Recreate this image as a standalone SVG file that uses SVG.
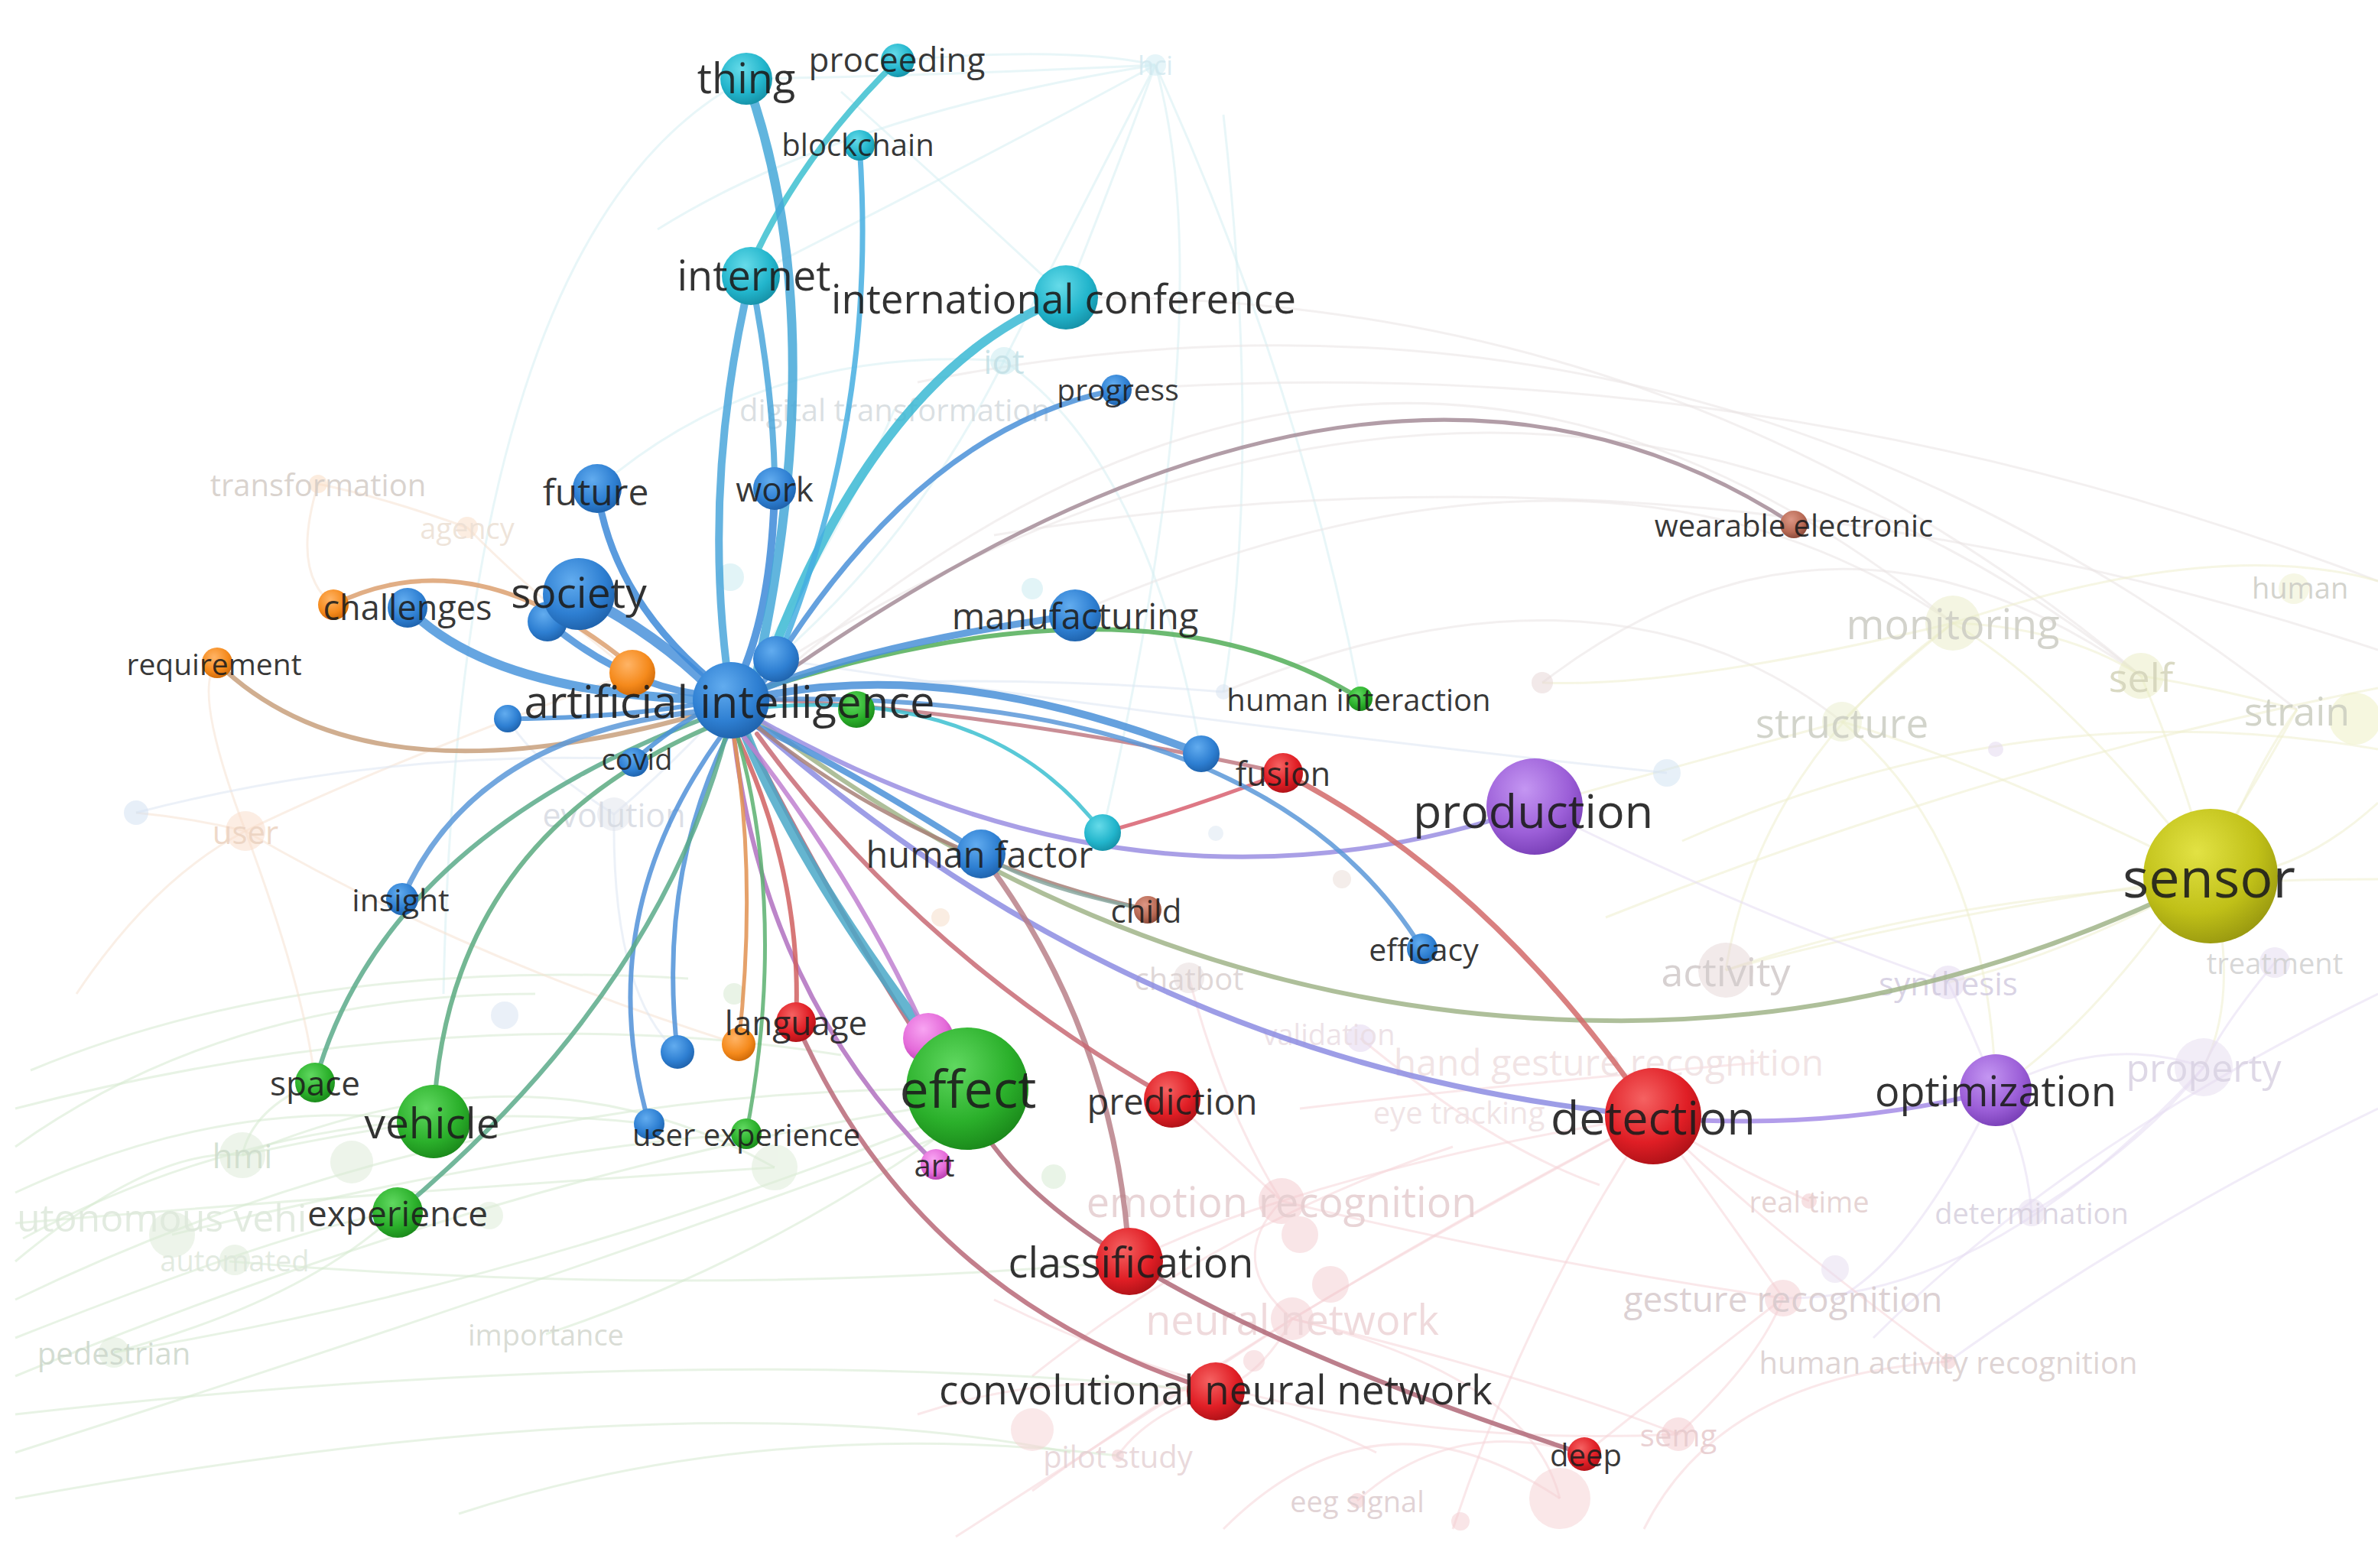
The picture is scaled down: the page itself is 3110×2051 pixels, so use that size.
<svg xmlns="http://www.w3.org/2000/svg" width="3110" height="2051" viewBox="0 0 3110 2051">
<defs>
<style>
text{font-family:"Open Sans","Noto Sans","DejaVu Sans",sans-serif;text-anchor:middle;dominant-baseline:central}
.lb{fill:#1c1c1c;fill-opacity:.9}
.fl{fill-opacity:.85}
.e{fill:none;stroke-linecap:round;opacity:.85}
.f{fill:none;stroke-width:3;opacity:.55}
.fg{stroke:#d6e9cf}.fr{stroke:#f5d6d9}.fy{stroke:#eeeecd}.fc{stroke:#d6eef3}.fp{stroke:#e6dcf2}.fo{stroke:#f6e2d2}.fb{stroke:#dde6f3}.fx{stroke:#e9e4e4}
</style>
<radialGradient id="gBlue" cx="0.4" cy="0.32" r="0.7"><stop offset="0" stop-color="#62acef"/><stop offset="0.65" stop-color="#2e7fd2"/><stop offset="1" stop-color="#1f63ad"/></radialGradient>
<radialGradient id="gCyan" cx="0.4" cy="0.32" r="0.7"><stop offset="0" stop-color="#66dbe9"/><stop offset="0.65" stop-color="#22b5cc"/><stop offset="1" stop-color="#1692a8"/></radialGradient>
<radialGradient id="gGreen" cx="0.4" cy="0.32" r="0.7"><stop offset="0" stop-color="#60d860"/><stop offset="0.65" stop-color="#2bb02b"/><stop offset="1" stop-color="#1b8a1b"/></radialGradient>
<radialGradient id="gRed" cx="0.4" cy="0.32" r="0.7"><stop offset="0" stop-color="#f56262"/><stop offset="0.65" stop-color="#e01e25"/><stop offset="1" stop-color="#b01218"/></radialGradient>
<radialGradient id="gPurple" cx="0.4" cy="0.32" r="0.7"><stop offset="0" stop-color="#c496f2"/><stop offset="0.65" stop-color="#9c5fd8"/><stop offset="1" stop-color="#7a40b8"/></radialGradient>
<radialGradient id="gOlive" cx="0.4" cy="0.32" r="0.7"><stop offset="0" stop-color="#e2e244"/><stop offset="0.65" stop-color="#c0c018"/><stop offset="1" stop-color="#9a9a10"/></radialGradient>
<radialGradient id="gOrange" cx="0.4" cy="0.32" r="0.7"><stop offset="0" stop-color="#ffb466"/><stop offset="0.65" stop-color="#f58a1c"/><stop offset="1" stop-color="#d06a08"/></radialGradient>
<radialGradient id="gBrown" cx="0.4" cy="0.32" r="0.7"><stop offset="0" stop-color="#dc9684"/><stop offset="0.65" stop-color="#b86a55"/><stop offset="1" stop-color="#8a4a3a"/></radialGradient>
<radialGradient id="gPink" cx="0.4" cy="0.32" r="0.7"><stop offset="0" stop-color="#f8a4f2"/><stop offset="0.65" stop-color="#e46ad9"/><stop offset="1" stop-color="#b840b0"/></radialGradient>
</defs>
<rect width="3110" height="2051" fill="#ffffff"/>

<g id="background-links">
<path class="f fc" d="M1511,85 Q1400,300 1313,472"/>
<path class="f fc" d="M1511,85 Q1600,400 1442,1089"/>
<path class="f fc" d="M1511,85 Q1300,200 982,361"/>
<path class="f fc" d="M1511,85 Q1200,100 976,103"/>
<path class="f fc" d="M1313,472 Q1200,700 1015,862"/>
<path class="f fc" d="M1313,472 Q1500,600 1571,986"/>
<path class="f fc" d="M1170,535 Q1100,700 956,916"/>
<path class="f fc" d="M580,1300 Q600,300 976,103"/>
<path class="f fc" d="M1511,85 Q1700,500 1779,914"/>
<path class="f fc" d="M1600,150 Q1650,600 1600,905"/>
<path class="f fc" d="M1313,472 Q1000,450 781,639"/>
<path class="f fc" d="M1174,79 Q1400,60 1511,85"/>
<path class="f fc" d="M1394,389 Q1450,250 1511,85"/>
<path class="f fc" d="M1100,120 Q1300,300 1394,389"/>
<path class="f fc" d="M860,300 Q1100,150 1511,85"/>
<path class="f fx" d="M1000,900 Q1800,200 2554,815"/>
<path class="f fx" d="M1000,880 Q2000,250 2800,884"/>
<path class="f fx" d="M1400,805 Q2100,500 2554,815"/>
<path class="f fx" d="M1394,389 Q2200,380 2800,884"/>
<path class="f fx" d="M1200,500 Q2200,300 3004,928"/>
<path class="f fx" d="M2017,893 Q2400,600 2800,884"/>
<path class="f fx" d="M1600,905 Q2100,700 2409,944"/>
<path class="f fx" d="M1460,510 Q2300,450 3110,760"/>
<path class="f fx" d="M1300,700 Q2200,550 3110,850"/>
<path class="f fy" d="M2891,1146 Q2700,900 2554,815"/>
<path class="f fy" d="M2891,1146 Q2850,1000 2800,884"/>
<path class="f fy" d="M2891,1146 Q2950,1000 3004,928"/>
<path class="f fy" d="M2891,1146 Q2600,1000 2409,944"/>
<path class="f fy" d="M2891,1146 Q2500,1200 2257,1269"/>
<path class="f fy" d="M2891,1146 Q2700,1250 2548,1285"/>
<path class="f fy" d="M2891,1146 Q2930,1300 2882,1396"/>
<path class="f fy" d="M2891,1146 Q3000,1150 3110,1050"/>
<path class="f fy" d="M2554,815 Q2450,900 2409,944"/>
<path class="f fy" d="M2554,815 Q2700,820 2800,884"/>
<path class="f fy" d="M2554,815 Q2300,1000 2257,1269"/>
<path class="f fy" d="M2409,944 Q2200,1000 2007,1055"/>
<path class="f fy" d="M2554,815 Q2200,900 2017,893"/>
<path class="f fy" d="M2800,884 Q2900,900 3004,928"/>
<path class="f fy" d="M2409,944 Q2600,1100 2610,1426"/>
<path class="f fy" d="M3004,928 Q2800,1300 2610,1426"/>
<path class="f fy" d="M2554,815 Q2900,700 3110,760"/>
<path class="f fy" d="M2257,1269 Q2600,1150 3110,1150"/>
<path class="f fy" d="M2100,1200 Q2600,1000 3110,900"/>
<path class="f fy" d="M2200,1100 Q2650,900 3110,980"/>
<path class="f fp" d="M2610,1426 Q2750,1350 2882,1396"/>
<path class="f fp" d="M2610,1426 Q2650,1500 2657,1586"/>
<path class="f fp" d="M2882,1396 Q2800,1500 2657,1586"/>
<path class="f fp" d="M2548,1285 Q2580,1350 2610,1426"/>
<path class="f fp" d="M2007,1055 Q2300,1200 2548,1285"/>
<path class="f fp" d="M2610,1426 Q2500,1650 2400,1700"/>
<path class="f fp" d="M2882,1396 Q2600,1700 2332,1698"/>
<path class="f fp" d="M2975,1259 Q2900,1350 2882,1396"/>
<path class="f fp" d="M3110,1300 Q2700,1500 2450,1750"/>
<path class="f fp" d="M3110,1450 Q2800,1600 2548,1781"/>
<path class="f fr" d="M1676,1571 Q1900,1500 2162,1460"/>
<path class="f fr" d="M1690,1725 Q1900,1600 2162,1460"/>
<path class="f fr" d="M1676,1571 Q1600,1650 1690,1725"/>
<path class="f fr" d="M1690,1725 Q1650,1800 1590,1820"/>
<path class="f fr" d="M2332,1698 Q2250,1580 2162,1460"/>
<path class="f fr" d="M2332,1698 Q2200,1800 2072,1902"/>
<path class="f fr" d="M2195,1876 Q2300,1780 2332,1698"/>
<path class="f fr" d="M1775,1963 Q1900,1850 2072,1902"/>
<path class="f fr" d="M1462,1904 Q1500,1850 1590,1820"/>
<path class="f fr" d="M1690,1725 Q2000,1800 2195,1876"/>
<path class="f fr" d="M1676,1571 Q2000,1650 2332,1698"/>
<path class="f fr" d="M1477,1650 Q1580,1600 1676,1571"/>
<path class="f fr" d="M1533,1438 Q1600,1500 1676,1571"/>
<path class="f fr" d="M2162,1460 Q2300,1600 2548,1781"/>
<path class="f fr" d="M2040,1960 Q2000,1800 1690,1725"/>
<path class="f fr" d="M1350,1950 Q1700,1700 2162,1460"/>
<path class="f fr" d="M1300,1700 Q1700,1900 2195,1876"/>
<path class="f fr" d="M1779,1358 Q1950,1500 2092,1550"/>
<path class="f fr" d="M1555,1279 Q1600,1450 1676,1571"/>
<path class="f fr" d="M2366,1571 Q2250,1520 2162,1460"/>
<path class="f fr" d="M1700,1450 Q1950,1420 2300,1390"/>
<path class="f fr" d="M1900,2000 Q2000,1700 2162,1460"/>
<path class="f fr" d="M1600,2000 Q1800,1800 2040,1960"/>
<path class="f fr" d="M1350,1800 Q1600,1600 1900,1500"/>
<path class="f fr" d="M1200,1850 Q1500,1750 1800,1900"/>
<path class="f fr" d="M1250,2010 Q1500,1850 1690,1725"/>
<path class="f fr" d="M2150,2000 Q2250,1800 2548,1781"/>
<path class="f fg" d="M20,1700 Q600,1420 1265,1424"/>
<path class="f fg" d="M20,1800 Q700,1520 1265,1440"/>
<path class="f fg" d="M20,1900 Q800,1650 1300,1460"/>
<path class="f fg" d="M30,1620 Q400,1420 850,1470"/>
<path class="f fg" d="M20,1560 Q300,1430 567,1467"/>
<path class="f fg" d="M149,1769 Q700,1680 1265,1450"/>
<path class="f fg" d="M300,1650 Q900,1700 1477,1650"/>
<path class="f fg" d="M20,1850 Q900,1750 1590,1820"/>
<path class="f fg" d="M20,1960 Q900,1800 1400,1900"/>
<path class="f fg" d="M20,1750 Q400,1600 520,1586"/>
<path class="f fg" d="M225,1615 Q700,1500 976,1483"/>
<path class="f fg" d="M317,1511 Q700,1350 1013,1527"/>
<path class="f fg" d="M20,1650 Q200,1500 317,1511"/>
<path class="f fg" d="M412,1416 Q330,1450 317,1511"/>
<path class="f fg" d="M567,1467 Q460,1480 317,1511"/>
<path class="f fg" d="M20,1600 Q500,1560 1013,1527"/>
<path class="f fg" d="M714,1745 Q1000,1650 1265,1460"/>
<path class="f fg" d="M149,1769 Q400,1700 520,1586"/>
<path class="f fg" d="M600,1980 Q1000,1850 1462,1904"/>
<path class="f fg" d="M20,1500 Q300,1300 700,1300"/>
<path class="f fg" d="M40,1400 Q400,1250 900,1280"/>
<path class="f fg" d="M20,1450 Q600,1300 1100,1380"/>
<path class="f fo" d="M416,633 Q500,650 611,690"/>
<path class="f fo" d="M416,633 Q380,750 436,791"/>
<path class="f fo" d="M611,690 Q700,780 827,880"/>
<path class="f fo" d="M321,1087 Q250,900 284,867"/>
<path class="f fo" d="M321,1087 Q500,1000 827,880"/>
<path class="f fo" d="M178,1063 Q250,1070 321,1087"/>
<path class="f fo" d="M321,1087 Q400,1300 412,1416"/>
<path class="f fo" d="M321,1087 Q600,1250 966,1366"/>
<path class="f fo" d="M100,1300 Q200,1150 321,1087"/>
<path class="f fb" d="M803,1065 Q880,1000 956,916"/>
<path class="f fb" d="M664,940 Q700,1000 803,1065"/>
<path class="f fb" d="M1600,905 Q1300,880 1000,900"/>
<path class="f fb" d="M2180,1011 Q1600,950 1015,862"/>
<path class="f fb" d="M803,1065 Q800,1300 886,1376"/>
<path class="f fb" d="M178,1063 Q500,980 826,993"/>
</g>

<g id="background-nodes" opacity="0.5">
<circle cx="1511" cy="85" r="14" fill="#cdebf3"/>
<circle cx="1313" cy="472" r="18" fill="#c5e9ef"/>
<circle cx="1350" cy="770" r="14" fill="#c5e9ef"/>
<circle cx="955" cy="755" r="18" fill="#c5e9ef"/>
<circle cx="416" cy="633" r="12" fill="#f9d9bd"/>
<circle cx="611" cy="690" r="14" fill="#f9dcc4"/>
<circle cx="321" cy="1087" r="26" fill="#f9dcc8"/>
<circle cx="178" cy="1063" r="16" fill="#cfdff2"/>
<circle cx="803" cy="1065" r="22" fill="#dfe3ec"/>
<circle cx="660" cy="1328" r="18" fill="#d6e2f2"/>
<circle cx="2554" cy="815" r="36" fill="#eaedc6"/>
<circle cx="2800" cy="884" r="30" fill="#eaedc2"/>
<circle cx="2409" cy="944" r="26" fill="#eaefcc"/>
<circle cx="3080" cy="940" r="34" fill="#eef0bf"/>
<circle cx="2257" cy="1269" r="36" fill="#e6d6d6"/>
<circle cx="2548" cy="1285" r="22" fill="#e2d6ef"/>
<circle cx="2975" cy="1259" r="20" fill="#e4daef"/>
<circle cx="2882" cy="1396" r="38" fill="#e6dcf0"/>
<circle cx="2610" cy="980" r="10" fill="#e2d6ef"/>
<circle cx="1779" cy="1358" r="18" fill="#e2d4ef"/>
<circle cx="1555" cy="1279" r="20" fill="#e6dada"/>
<circle cx="1676" cy="1571" r="30" fill="#f4c8cc"/>
<circle cx="1700" cy="1615" r="24" fill="#f4ccd0"/>
<circle cx="1690" cy="1725" r="28" fill="#f4ccd0"/>
<circle cx="1740" cy="1680" r="24" fill="#f4ccd0"/>
<circle cx="1640" cy="1780" r="14" fill="#f4ccd0"/>
<circle cx="1350" cy="1870" r="28" fill="#f6d2d4"/>
<circle cx="2332" cy="1698" r="24" fill="#f4ccd0"/>
<circle cx="2400" cy="1660" r="18" fill="#e6dcf0"/>
<circle cx="2366" cy="1571" r="10" fill="#f0c4c8"/>
<circle cx="2657" cy="1586" r="18" fill="#e4daef"/>
<circle cx="2548" cy="1781" r="10" fill="#f0c4c8"/>
<circle cx="2195" cy="1876" r="22" fill="#f4c8cc"/>
<circle cx="2040" cy="1960" r="40" fill="#f6d0d2"/>
<circle cx="1775" cy="1963" r="10" fill="#f0c4c8"/>
<circle cx="1910" cy="1990" r="12" fill="#f4ccd0"/>
<circle cx="1462" cy="1904" r="8" fill="#f0c4c8"/>
<circle cx="317" cy="1511" r="30" fill="#dcebd6"/>
<circle cx="460" cy="1520" r="28" fill="#dcebd6"/>
<circle cx="225" cy="1615" r="30" fill="#dcebd6"/>
<circle cx="307" cy="1648" r="20" fill="#dcebd6"/>
<circle cx="149" cy="1769" r="20" fill="#dcebd6"/>
<circle cx="640" cy="1590" r="18" fill="#dcebd6"/>
<circle cx="1013" cy="1527" r="30" fill="#dcebd6"/>
<circle cx="1378" cy="1539" r="16" fill="#d4e9cf"/>
<circle cx="960" cy="1300" r="14" fill="#d4e9cf"/>
<circle cx="1230" cy="1200" r="12" fill="#f6dcc6"/>
<circle cx="2017" cy="893" r="14" fill="#e6d4d4"/>
<circle cx="2180" cy="1011" r="18" fill="#cfe2f2"/>
<circle cx="1600" cy="905" r="10" fill="#d6e2f0"/>
<circle cx="1590" cy="1090" r="10" fill="#dbe6f2"/>
<circle cx="1755" cy="1150" r="12" fill="#eadcd6"/>
<circle cx="3000" cy="770" r="20" fill="#eef0cc"/>
</g>

<g id="background-labels">
<text class="fl" x="1511" y="85" font-size="34" fill="#d2e8ef">hci</text>
<text class="fl" x="1313" y="472" font-size="44" fill="#c2dfe5">iot</text>
<text class="fl" x="1170" y="535" font-size="40" fill="#d4dadd">digital transformation</text>
<text class="fl" x="416" y="633" font-size="40" fill="#d3cbc6">transformation</text>
<text class="fl" x="611" y="690" font-size="38" fill="#ecdfd4">agency</text>
<text class="fl" x="321" y="1087" font-size="42" fill="#ebd2c0">user</text>
<text class="fl" x="803" y="1065" font-size="43" fill="#d6dae2">evolution</text>
<text class="fl" x="2554" y="815" font-size="54" fill="#cbcbc3">monitoring</text>
<text class="fl" x="2800" y="884" font-size="52" fill="#d2d2b8">self</text>
<text class="fl" x="2409" y="944" font-size="53" fill="#caccc2">structure</text>
<text class="fl" x="3004" y="928" font-size="52" fill="#caccc0">strain</text>
<text class="fl" x="2945" y="768" font-size="38" fill="#cbcbc4" style="text-anchor:start">human</text>
<text class="fl" x="2257" y="1269" font-size="52" fill="#d0c9c9">activity</text>
<text class="fl" x="2548" y="1285" font-size="42" fill="#d2cbdf">synthesis</text>
<text class="fl" x="2975" y="1259" font-size="38" fill="#d0d0d0">treatment</text>
<text class="fl" x="2882" y="1396" font-size="50" fill="#d8d1e2">property</text>
<text class="fl" x="2104" y="1388" font-size="48" fill="#efdfe1">hand gesture recognition</text>
<text class="fl" x="1908" y="1454" font-size="40" fill="#eedfe2">eye tracking</text>
<text class="fl" x="1738" y="1352" font-size="38" fill="#eadde3">validation</text>
<text class="fl" x="1555" y="1279" font-size="40" fill="#dad0d0">chatbot</text>
<text class="fl" x="2366" y="1571" font-size="38" fill="#e2cdcd">real time</text>
<text class="fl" x="2657" y="1586" font-size="38" fill="#d6cfdd">determination</text>
<text class="fl" x="2332" y="1698" font-size="46" fill="#d6c9cc">gesture recognition</text>
<text class="fl" x="2548" y="1781" font-size="40" fill="#d8cdcd">human activity recognition</text>
<text class="fl" x="2195" y="1876" font-size="40" fill="#e6c9cc">semg</text>
<text class="fl" x="1775" y="1963" font-size="38" fill="#dccbce">eeg signal</text>
<text class="fl" x="1462" y="1904" font-size="40" fill="#e6d2d5">pilot study</text>
<text class="fl" x="1690" y="1725" font-size="54" fill="#ecd3d6">neural network</text>
<text class="fl" x="1676" y="1571" font-size="54" fill="#e4cccf">emotion recognition</text>
<text class="fl" x="317" y="1511" font-size="44" fill="#cddccb">hmi</text>
<text class="fl" x="22" y="1592" font-size="50" fill="#dde7db" style="text-anchor:start">utonomous vehi</text>
<text class="fl" x="307" y="1648" font-size="38" fill="#dde7db">automated</text>
<text class="fl" x="149" y="1769" font-size="40" fill="#cbd6ca">pedestrian</text>
<text class="fl" x="714" y="1745" font-size="38" fill="#d2d6ce">importance</text>
</g>

<g id="connectors">
<path class="e" stroke="#c8a07c" stroke-width="6" d="M284,867 Q480,1060 930,930"/>
<path class="e" stroke="#dca070" stroke-width="6" d="M436,791 Q620,700 827,872"/>
<path class="e" stroke="#a58c98" stroke-width="5" d="M1000,900 Q1800,330 2346,686"/>
<path class="e" stroke="#a0b488" stroke-width="6" d="M2891,1146 Q2500,1340 2100,1335 Q1500,1330 990,940"/>
<path class="e" stroke="#9a8ee2" stroke-width="6" d="M2007,1055 Q1500,1230 990,940"/>
<path class="e" stroke="#8c8ce2" stroke-width="7" d="M2162,1460 Q1500,1400 990,950"/>
<path class="e" stroke="#a58ce6" stroke-width="6" d="M2162,1462 Q2400,1480 2610,1426"/>
<path class="e" stroke="#d26a6a" stroke-width="7" d="M1678,1011 Q1950,1150 2162,1460"/>
<path class="e" stroke="#d86070" stroke-width="5" d="M1678,1011 Q1550,1060 1442,1089"/>
<path class="e" stroke="#c07a84" stroke-width="5" d="M1678,1011 Q1300,930 1000,915"/>
<path class="e" stroke="#3cc0d0" stroke-width="5" d="M1442,1089 Q1300,900 1000,925"/>
<path class="e" stroke="#5a98d8" stroke-width="6" d="M1860,1241 Q1650,900 990,915"/>
<path class="e" stroke="#4a90d8" stroke-width="10" d="M1571,986 Q1250,860 1000,910"/>
<path class="e" stroke="#52ae58" stroke-width="6" d="M1779,914 Q1500,740 1000,900"/>
<path class="e" stroke="#4a90d8" stroke-width="9" d="M1406,805 Q1150,840 1000,900"/>
<path class="e" stroke="#4a90d8" stroke-width="8" d="M1283,1117 Q1100,1000 990,950"/>
<path class="e" stroke="#a88078" stroke-width="5" d="M1501,1190 Q1200,1120 990,950"/>
<path class="e" stroke="#8aa8a0" stroke-width="5" d="M1501,1190 Q1350,1160 1283,1117"/>
<path class="e" stroke="#b88088" stroke-width="7" d="M1283,1117 Q1460,1350 1477,1650"/>
<path class="e" stroke="#c86a74" stroke-width="6" d="M1533,1438 Q1200,1250 990,960"/>
<path class="e" stroke="#b06878" stroke-width="6" d="M975,960 Q1150,1300 1300,1500 Q1450,1700 2072,1902"/>
<path class="e" stroke="#b86878" stroke-width="6" d="M1041,1337 Q1200,1700 1590,1820"/>
<path class="e" stroke="#4aa8c8" stroke-width="14" d="M1265,1424 Q1050,1150 975,960"/>
<path class="e" stroke="#c080d0" stroke-width="6" d="M1214,1358 Q1120,1150 970,960"/>
<path class="e" stroke="#b070c0" stroke-width="6" d="M1224,1523 Q1000,1300 960,965"/>
<path class="e" stroke="#d06060" stroke-width="6" d="M1041,1337 Q1050,1150 965,965"/>
<path class="e" stroke="#5ab070" stroke-width="5" d="M976,1483 Q1030,1200 965,965"/>
<path class="e" stroke="#e09050" stroke-width="5" d="M966,1366 Q990,1150 960,965"/>
<path class="e" stroke="#4f92d8" stroke-width="6" d="M886,1376 Q860,1150 950,965"/>
<path class="e" stroke="#5090d8" stroke-width="6" d="M849,1470 Q770,1200 945,960"/>
<path class="e" stroke="#5aaa8a" stroke-width="6" d="M520,1586 Q860,1300 950,960"/>
<path class="e" stroke="#5aaa80" stroke-width="6" d="M567,1467 Q580,1100 930,950"/>
<path class="e" stroke="#5aaa8a" stroke-width="6" d="M412,1416 Q500,1100 920,940"/>
<path class="e" stroke="#5a98d8" stroke-width="7" d="M526,1176 Q620,960 920,930"/>
<path class="e" stroke="#4a90d8" stroke-width="6" d="M829,995 Q880,950 930,925"/>
<path class="e" stroke="#4a90d8" stroke-width="6" d="M664,940 Q800,940 920,920"/>
<path class="e" stroke="#4a95dc" stroke-width="12" d="M533,795 Q640,905 920,915"/>
<path class="e" stroke="#4a92da" stroke-width="14" d="M757,777 Q860,830 930,900"/>
<path class="e" stroke="#4a92da" stroke-width="9" d="M716,813 Q820,900 930,910"/>
<path class="e" stroke="#3d8ad8" stroke-width="9" d="M781,639 Q800,780 930,890"/>
<path class="e" stroke="#3d8ad8" stroke-width="10" d="M1013,639 Q1010,780 975,870"/>
<path class="e" stroke="#4a90d8" stroke-width="7" d="M1460,510 Q1200,560 1000,890"/>
<path class="e" stroke="#3ab8d4" stroke-width="12" d="M1394,389 Q1150,480 1000,880"/>
<path class="e" stroke="#45aee0" stroke-width="7" d="M1124,190 Q1150,550 1010,880"/>
<path class="e" stroke="#3cc0d0" stroke-width="8" d="M1174,79 Q1050,200 985,340"/>
<path class="e" stroke="#4aa6da" stroke-width="8" d="M982,361 Q1010,500 1013,620"/>
<path class="e" stroke="#4aa6da" stroke-width="10" d="M982,361 Q920,620 950,870"/>
<path class="e" stroke="#45a8d8" stroke-width="12" d="M976,103 Q1090,420 990,880"/>
</g>

<g id="node-requirement"><circle cx="284" cy="867" r="20" fill="url(#gOrange)"/><text class="lb" x="280" y="867" font-size="39">requirement</text></g>
<g id="node-challenges"><circle cx="436" cy="791" r="20" fill="url(#gOrange)"/><circle cx="533" cy="795" r="26" fill="url(#gBlue)"/><text class="lb" x="533" y="793" font-size="45">challenges</text></g>
<g id="node-future"><circle cx="781" cy="639" r="32" fill="url(#gBlue)"/><text class="lb" x="779" y="642" font-size="48">future</text></g>
<g id="node-work"><circle cx="1013" cy="639" r="28" fill="url(#gBlue)"/><text class="lb" x="1013" y="639" font-size="44">work</text></g>
<g id="node-thing"><circle cx="976" cy="103" r="34" fill="url(#gCyan)"/><text class="lb" x="976" y="101" font-size="54">thing</text></g>
<g id="node-proceeding"><circle cx="1174" cy="79" r="22" fill="url(#gCyan)"/><text class="lb" x="1173" y="77" font-size="44">proceeding</text></g>
<g id="node-blockchain"><circle cx="1124" cy="190" r="20" fill="url(#gCyan)"/><text class="lb" x="1122" y="188" font-size="40">blockchain</text></g>
<g id="node-internet"><circle cx="982" cy="361" r="38" fill="url(#gCyan)"/><text class="lb" x="986" y="359" font-size="54">internet</text></g>
<g id="node-international-conference"><circle cx="1394" cy="389" r="42" fill="url(#gCyan)"/><text class="lb" x="1391" y="389" font-size="53">international conference</text></g>
<g id="node-progress"><circle cx="1460" cy="510" r="20" fill="url(#gBlue)"/><text class="lb" x="1462" y="508" font-size="39">progress</text></g>
<g id="node-society"><circle cx="716" cy="813" r="26" fill="url(#gBlue)"/><circle cx="757" cy="777" r="47" fill="url(#gBlue)"/><text class="lb" x="757" y="773" font-size="55">society</text></g>
<g id="node-insight"><circle cx="526" cy="1176" r="21" fill="url(#gBlue)"/><text class="lb" x="524" y="1176" font-size="41">insight</text></g>
<g id="node-covid"><circle cx="829" cy="997" r="19" fill="url(#gBlue)"/><text class="lb" x="833" y="992" font-size="38">covid</text></g>
<g id="node-manufacturing"><circle cx="1406" cy="805" r="34" fill="url(#gBlue)"/><text class="lb" x="1406" y="805" font-size="47">manufacturing</text></g>
<g id="node-human-interaction"><circle cx="1779" cy="914" r="16" fill="url(#gGreen)"/><text class="lb" x="1777" y="914" font-size="40">human interaction</text></g>
<g id="node-wearable-electronic"><circle cx="2346" cy="686" r="18" fill="url(#gBrown)"/><text class="lb" x="2346" y="686" font-size="40">wearable electronic</text></g>
<g id="node-blue-1571"><circle cx="1571" cy="986" r="24" fill="url(#gBlue)"/></g>
<g id="node-fusion"><circle cx="1678" cy="1011" r="26" fill="url(#gRed)"/><text class="lb" x="1678" y="1011" font-size="43">fusion</text></g>
<g id="node-hri"><circle cx="1442" cy="1089" r="24" fill="url(#gCyan)"/></g>
<g id="node-human-factor"><circle cx="1283" cy="1117" r="32" fill="url(#gBlue)"/><text class="lb" x="1281" y="1117" font-size="47">human factor</text></g>
<g id="node-child"><circle cx="1501" cy="1190" r="18" fill="url(#gBrown)"/><text class="lb" x="1499" y="1190" font-size="42">child</text></g>
<g id="node-efficacy"><circle cx="1860" cy="1241" r="20" fill="url(#gBlue)"/><text class="lb" x="1862" y="1241" font-size="41">efficacy</text></g>
<g id="node-production"><circle cx="2007" cy="1055" r="63" fill="url(#gPurple)"/><text class="lb" x="2005" y="1059" font-size="61">production</text></g>
<g id="node-sensor"><circle cx="2891" cy="1146" r="88" fill="url(#gOlive)"/><text class="lb" x="2889" y="1146" font-size="72">sensor</text></g>
<g id="node-optimization"><circle cx="2610" cy="1426" r="47" fill="url(#gPurple)"/><text class="lb" x="2610" y="1426" font-size="54">optimization</text></g>
<g id="node-detection"><circle cx="2162" cy="1460" r="63" fill="url(#gRed)"/><text class="lb" x="2162" y="1460" font-size="61">detection</text></g>
<g id="node-deep"><circle cx="2072" cy="1902" r="22" fill="url(#gRed)"/><text class="lb" x="2074" y="1902" font-size="40">deep</text></g>
<g id="node-cnn"><circle cx="1590" cy="1820" r="38" fill="url(#gRed)"/><text class="lb" x="1590" y="1816" font-size="53">convolutional neural network</text></g>
<g id="node-classification"><circle cx="1477" cy="1650" r="44" fill="url(#gRed)"/><text class="lb" x="1479" y="1650" font-size="54">classification</text></g>
<g id="node-prediction"><circle cx="1533" cy="1438" r="37" fill="url(#gRed)"/><text class="lb" x="1533" y="1440" font-size="47">prediction</text></g>
<g id="node-pink"><circle cx="1214" cy="1358" r="33" fill="url(#gPink)"/></g>
<g id="node-effect"><circle cx="1265" cy="1424" r="80" fill="url(#gGreen)"/><text class="lb" x="1266" y="1422" font-size="68">effect</text></g>
<g id="node-art"><circle cx="1224" cy="1523" r="20" fill="url(#gPink)"/><text class="lb" x="1222" y="1523" font-size="40">art</text></g>
<g id="node-orange-966"><circle cx="966" cy="1366" r="22" fill="url(#gOrange)"/></g>
<g id="node-blue-886"><circle cx="886" cy="1376" r="22" fill="url(#gBlue)"/></g>
<g id="node-language"><circle cx="1041" cy="1337" r="26" fill="url(#gRed)"/><text class="lb" x="1041" y="1337" font-size="44">language</text></g>
<g id="node-user-experience"><circle cx="849" cy="1470" r="20" fill="url(#gBlue)"/><circle cx="976" cy="1483" r="20" fill="url(#gGreen)"/><text class="lb" x="976" y="1483" font-size="40">user experience</text></g>
<g id="node-space"><circle cx="412" cy="1416" r="26" fill="url(#gGreen)"/><text class="lb" x="412" y="1416" font-size="44">space</text></g>
<g id="node-vehicle"><circle cx="567" cy="1467" r="48" fill="url(#gGreen)"/><text class="lb" x="565" y="1467" font-size="55">vehicle</text></g>
<g id="node-experience"><circle cx="520" cy="1586" r="33" fill="url(#gGreen)"/><text class="lb" x="520" y="1586" font-size="46">experience</text></g>
<g id="node-ai-neighbours"><circle cx="664" cy="940" r="18" fill="url(#gBlue)"/><circle cx="827" cy="880" r="30" fill="url(#gOrange)"/><circle cx="1015" cy="862" r="30" fill="url(#gBlue)"/><circle cx="1120" cy="928" r="24" fill="url(#gGreen)"/></g>
<g id="node-artificial-intelligence"><circle cx="956" cy="916" r="50" fill="url(#gBlue)"/><text class="lb" x="954" y="916" font-size="58">artificial intelligence</text></g>
</svg>
